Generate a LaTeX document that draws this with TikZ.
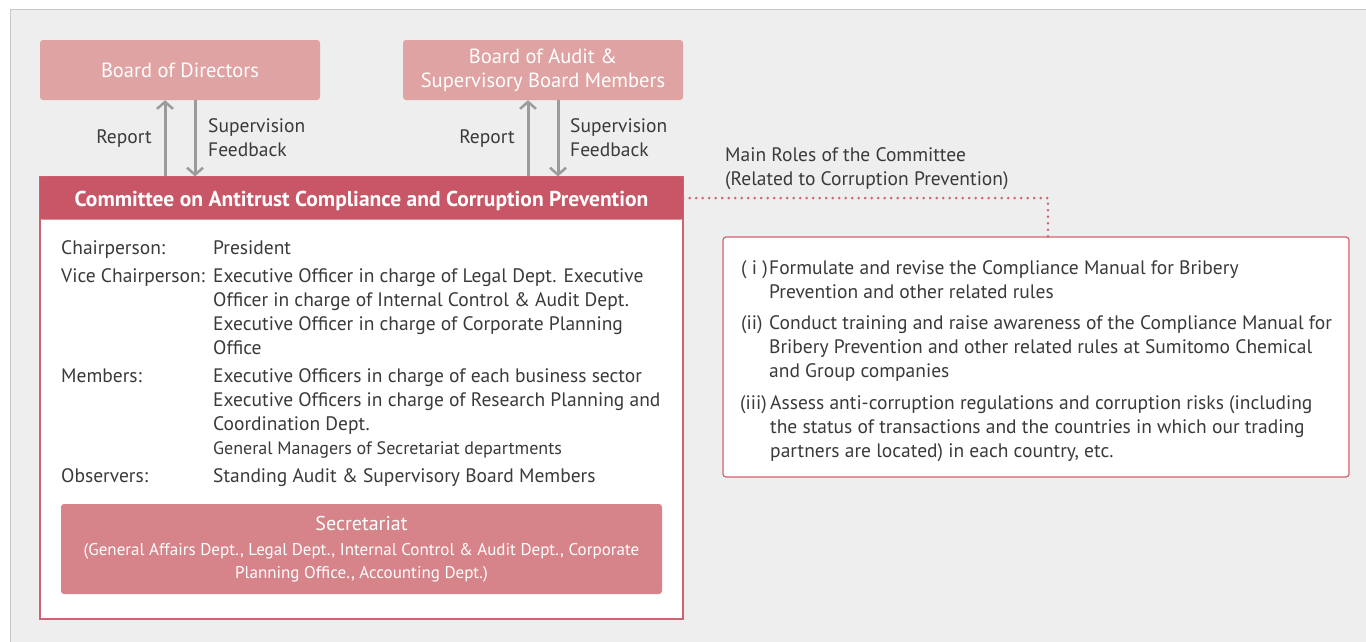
\documentclass[tikz,border=0pt]{standalone}
\usepackage{fontspec}
\setmainfont{PT Sans}
\usetikzlibrary{arrows.meta}

\definecolor{bggray}{HTML}{EEEEEE}
\definecolor{framegray}{HTML}{C8C8C8}
\definecolor{boardpink}{HTML}{E0A3A3}
\definecolor{headred}{HTML}{C95667}
\definecolor{secpink}{HTML}{D6848A}
\definecolor{linered}{HTML}{D06373}
\definecolor{arrowgray}{HTML}{9B9B9B}
\definecolor{txt}{HTML}{3A3A3A}

\newcommand{\bodyfont}{\fontsize{19.5}{24}\selectfont}
% lines stacked under the baseline of the first one
\newcommand{\linesblock}[1]{\begin{tabular}[t]{@{}l@{}}#1\end{tabular}}

\begin{document}
\begin{tikzpicture}[x=1pt,y=-1pt,
  board/.style={fill=boardpink, rounded corners=3pt, minimum width=280pt, minimum height=60pt,
    text=white, align=center, font=\fontsize{20.5}{24}\selectfont},
  flow/.style={draw=arrowgray, line width=3pt, -{Straight Barb[length=7pt,width=16pt,line width=2.5pt]}},
  lbl/.style={text=txt, inner sep=0pt, font=\bodyfont, align=left},
  item/.style={text=txt, inner sep=0pt, font=\bodyfont, anchor=base west},
  ]
\useasboundingbox (0,0) rectangle (1366,641);
\fill[white] (0,0) rectangle (1366,641);
\filldraw[fill=bggray, draw=framegray] (10.5,9.5) rectangle (1367,642);

% boards on top
\node[board] (bod) at (180,70) {Board of Directors};
\node[board] (boa) at (543,70) {Board of Audit \&\\Supervisory Board Members};

% committee box
\node[draw=linered, fill=white, line width=1.2pt, minimum width=643pt, minimum height=442pt, inner sep=0pt] (comm) at (361.5,398) {};
\node[fill=headred, rounded corners=2pt, minimum width=643pt, minimum height=43pt, anchor=north,
  text height=21pt, text depth=5pt,
  text=white, font=\fontsize{21.5}{24}\selectfont\bfseries] (head) at (comm.north) {Committee on Antitrust Compliance and Corruption Prevention};

% report / supervision arrows
\coordinate (u1) at ([xshift=-15pt]bod.south);
\coordinate (d1) at ([xshift=15pt]bod.south);
\coordinate (u2) at ([xshift=-15pt]boa.south);
\coordinate (d2) at ([xshift=15pt]boa.south);
\draw[flow] (u1 |- head.north) -- (u1);
\draw[flow] (d1) -- (d1 |- head.north);
\draw[flow] (u2 |- head.north) -- (u2);
\draw[flow] (d2) -- (d2 |- head.north);
\node[lbl] (rep1) at (124,139) {Report};
\node[lbl, anchor=west] (sup1) at (208,138) {Supervision\\Feedback};
\node[lbl] (rep2) at (487,139) {Report};
\node[lbl, anchor=west] (sup2) at (570,138) {Supervision\\Feedback};

% members of the committee
\node[item] (chairL) at (61,254) {Chairperson:};
\node[item] (chairV) at (213,254) {President};
\node[item] (viceL) at (61,282) {Vice Chairperson:};
\node[item] (viceV) at (213,282) {\linesblock{Executive Officer in charge of Legal Dept. Executive\\Officer in charge of Internal Control \& Audit Dept.\\Executive Officer in charge of Corporate Planning\\Office}};
\node[item] (memL) at (61,382) {Members:};
\node[item] (memV) at (213,382) {\linesblock{Executive Officers in charge of each business sector\\Executive Officers in charge of Research Planning and\\Coordination Dept.\\{\fontsize{18}{24}\selectfont General Managers of Secretariat departments}}};
\node[item] (obsL) at (61,482) {Observers:};
\node[item] (obsV) at (213,482) {Standing Audit \& Supervisory Board Members};

\node[fill=secpink, rounded corners=3pt, minimum width=601pt, minimum height=90pt, text=white, align=center,
  font=\fontsize{17}{23}\selectfont] (sec) at (361.5,549)
  {{\fontsize{20}{24}\selectfont Secretariat}\\[2pt](General Affairs Dept., Legal Dept., Internal Control \& Audit Dept., Corporate\\Planning Office., Accounting Dept.)};

% main roles
\node[lbl, anchor=west] (rolesT) at (725,169) {Main Roles of the Committee\\(Related to Corruption Prevention)};
\node[draw=linered, fill=white, line width=1.2pt, rounded corners=3pt, minimum width=626pt, minimum height=240pt] (roles) at (1036,357) {};
\coordinate (rc) at (1048,237);
\draw[linered, line width=2.8pt, line cap=round, dash pattern=on 0pt off 6.5pt] (head.east) -| (rc);

\node[item] (r1L) at (741,274) {( i )};
\node[item] (r1) at (769,274) {\linesblock{Formulate and revise the Compliance Manual for Bribery\\Prevention and other related rules}};
\node[item] (r2L) at (741,329) {(ii)};
\node[item] (r2) at (769,329) {\linesblock{Conduct training and raise awareness of the Compliance Manual for\\Bribery Prevention and other related rules at Sumitomo Chemical\\and Group companies}};
\node[item] (r3L) at (740,409) {(iii)};
\node[item] (r3) at (770,409) {\linesblock{Assess anti-corruption regulations and corruption risks (including\\the status of transactions and the countries in which our trading\\partners are located) in each country, etc.}};
\end{tikzpicture}
\end{document}
